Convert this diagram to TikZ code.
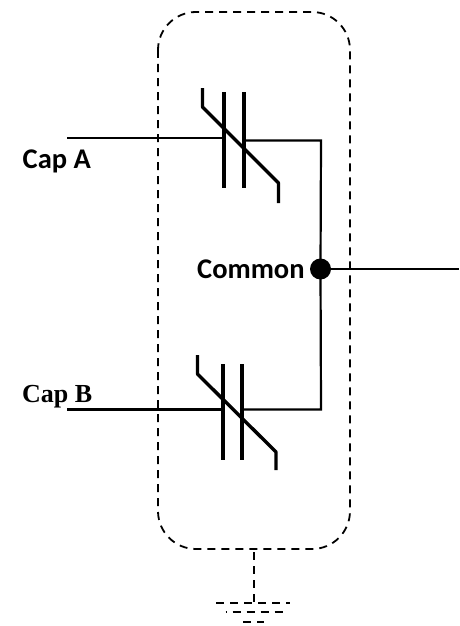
\documentclass[tikz,border=0pt]{standalone}
\usepackage{fontspec}
\setmainfont{Carlito}
\newfontfamily\serifbold{Liberation Serif}
\tikzset{
  wire/.style={draw=black,line width=2.2pt},
  plate/.style={draw=black,line width=4pt},
  zigzag/.style={draw=black,line width=3.4pt,line join=bevel},
  boxdash/.style={draw=black,line width=1.8pt,dash pattern=on 8pt off 6pt},
  lab/.style={font=\bfseries,inner sep=0pt,anchor=base west,text=black},
  junction/.style={circle,fill=black,draw=none,minimum size=21pt,inner sep=0pt}
}
\begin{document}
\begin{tikzpicture}[x=1pt,y=-1pt]
\useasboundingbox (0,0) rectangle (459,626);
% enclosure
\draw[boxdash,rounded corners=38pt] (158,12) rectangle (350,549);
% named points
\node[junction] (com) at (320.5,269) {};
\coordinate (out) at (459,269);
\coordinate (capa) at (67,138);
\coordinate (capb) at (67,409.5);
\coordinate (a1) at (224,138);
\coordinate (a2) at (243.5,140.5);
\coordinate (acorner) at (321,140.5);
\coordinate (b1) at (223,409.5);
\coordinate (b2) at (242,409.5);
\coordinate (bcorner) at (321,409.5);
% wires
\draw[wire] (capa) -- (a1);
\draw[wire] (a2) -- (acorner) -- (com.center) -- (bcorner) -- (b2);
\draw[wire] (capb) -- (b1);
\draw[wire] (com) -- (out);
% upper varistor
\draw[plate] (224,92) -- (224,188);
\draw[plate] (243.5,92) -- (243.5,188);
\draw[zigzag] (202.5,88) -- (202.5,107) -- (278.5,183) -- (278.5,203);
% lower varistor
\draw[plate] (223,364) -- (223,460);
\draw[plate] (242,364) -- (242,460);
\draw[zigzag] (197.5,355) -- (197.5,374) -- (276,452) -- (276,470);
% ground
\coordinate (gt) at (254,552);
\coordinate (gb) at (254,603);
\draw[boxdash,line width=2.3pt] (gt) -- (gb);
\draw[boxdash] (216,603) -- (290,603);
\draw[boxdash] (225.5,612) -- (227,612);
\draw[boxdash] (232.5,612) -- (284,612);
\draw[boxdash] (243,622) -- (264,622);
% labels
\node[lab,font=\bfseries\fontsize{28.5}{32}\selectfont] (la) at (22.5,168.5) {Cap A};
\node[lab,font=\fontsize{26}{30}\selectfont\serifbold\bfseries] (lb) at (22,402) {Cap B};
\node[lab,font=\bfseries\fontsize{28.5}{32}\selectfont] (lc) at (197,278) {Common};
\end{tikzpicture}
\end{document}
